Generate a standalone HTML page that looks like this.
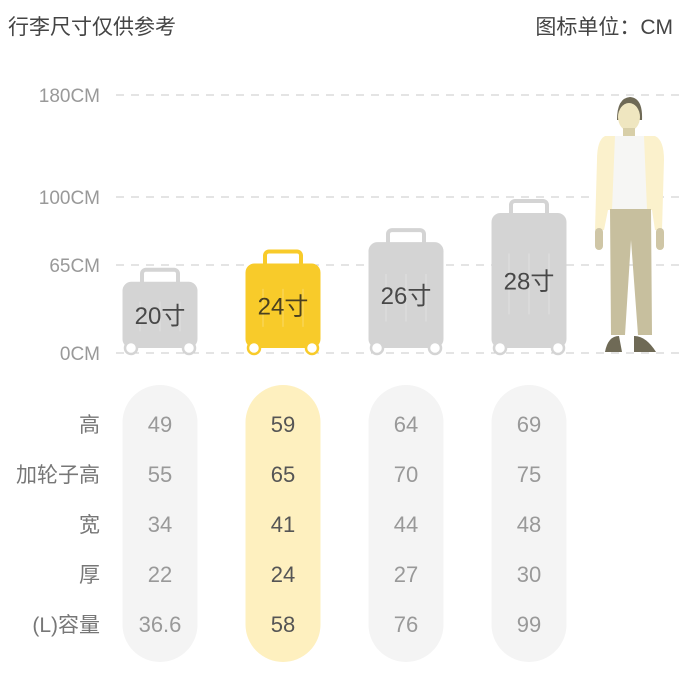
<!DOCTYPE html>
<html><head><meta charset="utf-8"><style>
body{margin:0;background:#fff;width:686px;height:678px;overflow:hidden;font-family:"Liberation Sans","Noto Sans CJK SC",sans-serif}
svg{display:block}
</style></head><body>
<svg id="chart" width="686" height="678">
<text x="8" y="34" font-size="21" fill="#444">行李尺寸仅供参考</text>
<text x="673" y="34" font-size="21" fill="#444" text-anchor="end">图标单位：CM</text>
<g id="grid"></g><g id="person">
<path d="M617 120 Q617 98 630 97 Q643 98 642 120 Z" fill="#6f6a56"/>
<ellipse cx="629" cy="117" rx="11" ry="14" fill="#efe6c0"/>
<rect x="623" y="128" width="12" height="10" fill="#d8cfa8"/>
<path d="M605 136 L655 136 Q664 140 664 160 L662 230 L655 230 L652 210 L608 210 L604 230 L595 230 L597 160 Q597 140 605 136 Z" fill="#fbf1cc"/>
<path d="M615 136 L644 136 L647 210 L612 210 Z" fill="#f6f6f4"/>
<rect x="595" y="228" width="8" height="22" rx="4" fill="#cfc6a6"/>
<rect x="656" y="228" width="8" height="22" rx="4" fill="#cfc6a6"/>
<path d="M610 209 L651 209 L652 335 L638 335 L631 240 L625 335 L611 335 Z" fill="#c7bf9e"/>
<path d="M605 352 Q608 336 619 336 L622 352 Z M634 336 Q646 336 656 352 L634 352 Z" fill="#6f6a56"/>
</g><g id="cases"></g><g id="table"></g>
</svg>
<script>
const tickValues=[0,65,100,180];
const tickLabels=["0CM","65CM","100CM","180CM"];
const sizeLabels=["20寸","24寸","26寸","28寸"];
const iconHeights=[63,73,84,99];
const rowLabels=["高","加轮子高","宽","厚","(L)容量"];
const heightVals=["49","59","64","69"];
const wheelHeightVals=["55","65","70","75"];
const widthVals=["34","41","44","48"];
const depthVals=["22","24","27","30"];
const volumeVals=["36.6","58","76","99"];
const highlightIndex=1;

const tickPix=[353,265,197,95];
function yScale(v){for(let i=1;i<tickValues.length;i++){if(v<=tickValues[i]||i===tickValues.length-1){const t=(v-tickValues[i-1])/(tickValues[i]-tickValues[i-1]);return tickPix[i-1]+t*(tickPix[i]-tickPix[i-1]);}}}
function xCol(i){return 160+i*123;}
const NS="http://www.w3.org/2000/svg";
function mk(tag,attrs,parent){const e=document.createElementNS(NS,tag);for(const k in attrs)e.setAttribute(k,attrs[k]);parent.appendChild(e);return e;}
const grid=document.getElementById('grid');
tickValues.forEach((v,i)=>{const y=yScale(v);
 const l=mk('line',{x1:116,x2:680,y1:y,y2:y,stroke:'#c8c8c8','stroke-dasharray':'8 7','stroke-width':1},grid);
 
 
 const t=mk('text',{x:100,y:y+7,'font-size':19,fill:'#999','text-anchor':'end'},grid);t.textContent=tickLabels[i];
 
 
});
const cases=document.getElementById('cases');
sizeLabels.forEach((s,i)=>{
 const hl=i===highlightIndex;const col=hl?'#f8cb2a':'#d4d4d4';
 const g=mk('g',{},cases);
 
 
 const cx=xCol(i);const top=yScale(iconHeights[i]);const bottom=348;
 const bodyTop=top+14;
 mk('rect',{x:cx-18,y:top+2,width:36,height:20,rx:4,fill:'none',stroke:col,'stroke-width':4},g);
 mk('rect',{x:cx-37.5,y:bodyTop,width:75,height:bottom-bodyTop,rx:9,fill:col},g);
 [-20,0,20].forEach(d=>mk('rect',{x:cx+d-1,y:bodyTop+(bottom-bodyTop)*0.3,width:2,height:(bottom-bodyTop)*0.45,fill:'rgba(255,255,255,0.15)'},g));
 [-29,29].forEach(d=>mk('circle',{cx:cx+d,cy:bottom,r:6,fill:'#fff',stroke:col,'stroke-width':2.5},g));
 const t=mk('text',{x:cx,y:(bodyTop+bottom)/2+9,'font-size':24,fill:hl?'#4a4020':'#484848','text-anchor':'middle'},g);t.textContent=s;
 
 
});
const table=document.getElementById('table');
const rows=[heightVals,wheelHeightVals,widthVals,depthVals,volumeVals];
sizeLabels.forEach((s,i)=>{const hl=i===highlightIndex;
 const p=mk('rect',{x:xCol(i)-37.5,y:385,width:75,height:277,rx:37.5,fill:hl?'#fef0bf':'#f4f4f4'},table);
 
 
});
rowLabels.forEach((r,j)=>{const y=432+j*50;
 const t=mk('text',{x:100,y:y,'font-size':21,fill:'#777','text-anchor':'end'},table);t.textContent=r;
 
 
 rows[j].forEach((v,i)=>{const c=mk('text',{x:xCol(i),y:y,'font-size':22,fill:i===highlightIndex?'#555':'#999','text-anchor':'middle'},table);c.textContent=v;
  
  
 });
});
</script>
</body></html>
